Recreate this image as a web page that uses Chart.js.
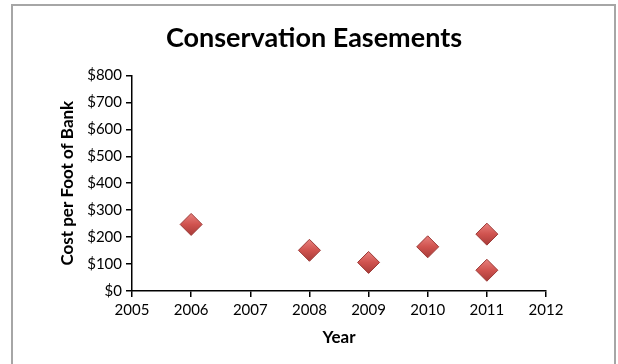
<!DOCTYPE html>
<html>
<head>
  <meta charset="UTF-8">
  <title>Conservation Easements</title>
  <script src="https://cdn.jsdelivr.net/npm/chart.js@4/dist/chart.umd.min.js"></script>
  <style>
    body { margin: 0; background: #fff; }
    #wrap { position: relative; width: 618px; height: 364px; }
  </style>
</head>
<body>
<div id="wrap"><canvas id="myChart" width="618" height="364"></canvas></div>
<script>
  // values
  var years = [2006, 2008, 2009, 2010, 2011, 2011];
  var costs = [247, 151, 106, 164, 211, 77];
  var yearTicks = [2005, 2006, 2007, 2008, 2009, 2010, 2011, 2012];
  var costTicks = [0, 100, 200, 300, 400, 500, 600, 700, 800];

  var points = years.map(function(y, i) { return { x: y, y: costs[i] }; });

  // gray frame round the chart, like the office chart border
  var framePlugin = {
    id: 'frame',
    beforeDraw: function(chart) {
      var c = chart.ctx;
      c.save();
      c.strokeStyle = '#a6a6a6';
      c.lineWidth = 2;
      c.strokeRect(12, 5, 603, 370);
      c.restore();
    }
  };

  // shaded fill for the diamonds
  function diamondFill(ctx) {
    var el = ctx.element;
    if (!el || el.x == null) return '#c9504c';
    var g = ctx.chart.ctx.createLinearGradient(el.x, el.y - 11, el.x, el.y + 11);
    g.addColorStop(0, '#e8817d');
    g.addColorStop(0.5, '#d0534f');
    g.addColorStop(1, '#a83b38');
    return g;
  }

  var font = "Lato, 'Open Sans', sans-serif";

  new Chart(document.getElementById('myChart'), {
    type: 'scatter',
    data: {
      datasets: [{
        data: points,
        pointStyle: 'rectRot',
        pointRadius: 11,
        pointHoverRadius: 11,
        backgroundColor: diamondFill,
        borderColor: '#9c3a37',
        borderWidth: 1
      }]
    },
    options: {
      responsive: false,
      animation: false,
      layout: { padding: { left: 10, right: 0, top: 0, bottom: 0 } },
      plugins: {
        legend: { display: false },
        tooltip: { enabled: false },
        title: {
          display: true,
          text: 'Conservation Easements',
          color: '#000',
          font: { family: font, size: 27, weight: 'bold' },
          padding: { top: 22, bottom: 21 }
        }
      },
      scales: {
        x: {
          type: 'linear',
          min: yearTicks[0],
          max: yearTicks[yearTicks.length - 1],
          afterBuildTicks: function(s) { s.ticks = yearTicks.map(function(v) { return { value: v }; }); },
          afterFit: function(s) { s.height = 73; },
          ticks: {
            color: '#000',
            font: { family: font, size: 15 },
            padding: 4,
            callback: function(v) { return String(v); }
          },
          grid: { drawOnChartArea: false, drawTicks: true, tickLength: 6, color: '#000', lineWidth: 1.5 },
          border: { color: '#000', width: 1.5 },
          title: {
            display: true,
            text: 'Year',
            color: '#000',
            font: { family: font, size: 17, weight: 'bold' },
            padding: { bottom: 16 }
          }
        },
        y: {
          min: costTicks[0],
          max: costTicks[costTicks.length - 1],
          afterBuildTicks: function(s) { s.ticks = costTicks.map(function(v) { return { value: v }; }); },
          afterFit: function(s) { s.width = 122; },
          ticks: {
            color: '#000',
            font: { family: font, size: 15 },
            padding: 4,
            callback: function(v) { return '$' + v; }
          },
          grid: { drawOnChartArea: false, drawTicks: true, tickLength: 6, color: '#000', lineWidth: 1.5 },
          border: { color: '#000', width: 1.5 },
          title: {
            display: true,
            text: 'Cost per Foot of Bank',
            color: '#000',
            font: { family: font, size: 17, weight: 'bold' },
            padding: { top: 47 }
          }
        },
        // empty spacer on the right so the plot ends where the original does
        spacer: {
          type: 'linear',
          position: 'right',
          display: true,
          afterFit: function(s) { s.width = 72; },
          ticks: { display: false },
          grid: { display: false, drawTicks: false },
          border: { display: false }
        }
      }
    },
    plugins: [framePlugin]
  });
</script>
</body>
</html>
